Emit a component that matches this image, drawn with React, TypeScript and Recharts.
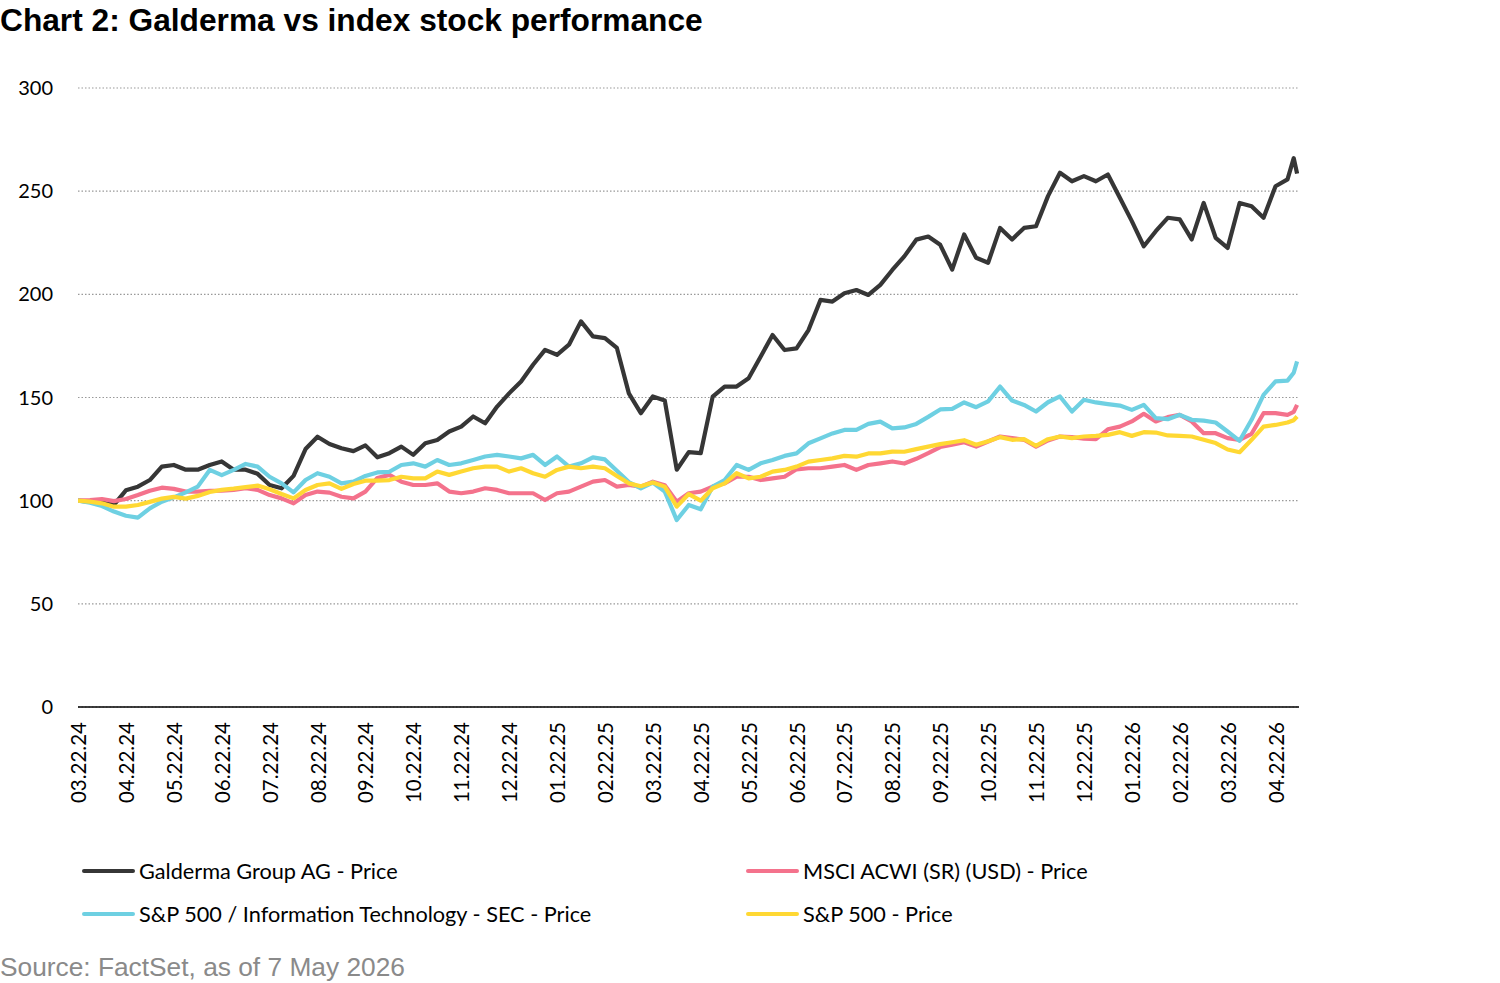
import React from 'react';
import { LineChart, Line, XAxis, YAxis, CartesianGrid } from 'recharts';

// x position in months since 03.22.24 (0 = 03.22.24, 25 = 04.22.26)
const monthIndex = [
  0, 0.25, 0.5, 0.75, 1, 1.25, 1.5, 1.75, 2, 2.25, 2.5, 2.75, 3, 3.25, 3.5, 3.75,
  4, 4.25, 4.5, 4.75, 5, 5.25, 5.5, 5.75, 6, 6.25, 6.5, 6.75, 7, 7.25, 7.5, 7.75,
  8, 8.25, 8.5, 8.75, 9, 9.25, 9.5, 9.75, 10, 10.25, 10.5, 10.75, 11, 11.25, 11.5, 11.75,
  12, 12.25, 12.5, 12.75, 13, 13.25, 13.5, 13.75, 14, 14.25, 14.5, 14.75, 15, 15.25, 15.5, 15.75,
  16, 16.25, 16.5, 16.75, 17, 17.25, 17.5, 17.75, 18, 18.25, 18.5, 18.75, 19, 19.25, 19.5, 19.75,
  20, 20.25, 20.5, 20.75, 21, 21.25, 21.5, 21.75, 22, 22.25, 22.5, 22.75, 23, 23.25, 23.5, 23.75,
  24, 24.25, 24.5, 24.75, 25, 25.25, 25.38, 25.45,
];

const galderma = [
  100, 99.5, 100, 98, 105, 106.8, 110, 116.5, 117.3, 115, 115, 117.3, 119, 115, 115, 113,
  107.6, 106, 112, 125, 131, 127.5, 125.4, 124, 126.8, 121, 123, 126.2, 122.2, 127.8, 129.4, 133.5,
  135.9, 140.8, 137.5, 145.6, 152, 157.8, 165.9, 173.1, 170.7, 175.6, 186.9, 179.6, 178.8, 174, 152, 142.4,
  150.5, 148.5, 115, 123.5, 123, 150.4, 155.3, 155.3, 159.3, 169.8, 180.3, 173, 173.8, 182.7, 197.3, 196.5,
  200.5, 202.1, 199.7, 204.6, 211.8, 218.4, 226.5, 228, 224, 212, 229, 217.7, 215.3, 232.2, 226.6, 232.2,
  233, 247.6, 258.9, 254.8, 257.3, 254.8, 258.1, 246.8, 235.5, 223.3, 230.6, 237.1, 236.3, 226.6, 244.3, 227.4,
  222.5, 244.3, 242.7, 237.1, 252.4, 255.7, 266, 258.5,
];

const msciAcwi = [
  100, 100.3, 100.8, 99.8, 100.8, 102.7, 104.8, 106.3, 105.7, 104.4, 104.4, 104.7, 104.8, 105.2, 106, 105.2,
  102.7, 101.1, 98.7, 102.7, 104.4, 103.9, 101.9, 101.1, 104.4, 111, 112.5, 109.2, 107.6, 107.6, 108.4, 104.4,
  103.6, 104.4, 106, 105.2, 103.6, 103.6, 103.6, 100.3, 103.6, 104.4, 106.8, 109.2, 110, 106.8, 107.6, 106.8,
  109.2, 107.5, 99.5, 103.6, 104.4, 106.8, 108.4, 111.6, 111.6, 110, 110.8, 111.6, 115.2, 115.7, 115.7, 116.5,
  117.3, 114.9, 117.3, 118.1, 119, 118, 120.3, 123, 126, 127.1, 128.3, 126.2, 128.7, 131.1, 130.3, 129.5,
  126.2, 129.2, 131.1, 130.8, 130, 129.8, 134.6, 135.9, 138.4, 142.1, 138.4, 140.5, 141.6, 138.4, 132.7, 132.7,
  130.3, 129.5, 132.4, 142.4, 142.4, 141.6, 143, 146.4,
];

const spInfoTech = [
  100, 99, 97.4, 94.7, 92.7, 91.8, 96.3, 99.5, 101.6, 104, 106.8, 114.9, 112.4, 114.9, 117.8, 116.5,
  111.6, 108.4, 104, 110, 113.3, 111.6, 108.4, 109.2, 112, 113.7, 114, 117.3, 118.1, 116.5, 119.7, 117.3,
  118.1, 119.7, 121.4, 122.2, 121.4, 120.5, 122.2, 117.3, 121.4, 116.5, 118.1, 121, 120, 114.5, 109, 106,
  108.8, 104.4, 90.6, 97.9, 95.8, 106.8, 110, 117.3, 114.9, 118.1, 119.7, 121.7, 122.9, 127.8, 130.2, 132.6,
  134.3, 134.3, 137.2, 138.3, 135, 135.5, 137.2, 140.6, 144.2, 144.5, 147.6, 145.3, 148.1, 155.3, 148.5, 146.4,
  143.2, 147.7, 150.5, 143.2, 148.9, 147.6, 146.8, 146.1, 144, 146.4, 140, 139.5, 141.6, 139.2, 138.8, 137.9,
  133.5, 129, 139.2, 151.3, 157.8, 158.2, 162, 167.5,
];

const sp500 = [
  100, 99.5, 98.7, 97.1, 97.1, 97.9, 99.4, 101, 101.8, 101, 102.3, 104.2, 105.2, 105.8, 106.6, 107.3,
  105.5, 103.2, 101.1, 105.2, 107.6, 108.4, 105.7, 108.1, 109.7, 109.7, 110, 111.6, 110.8, 110.8, 114.1, 112.5,
  114.1, 115.7, 116.5, 116.5, 114.1, 115.7, 113.3, 111.6, 114.9, 116.5, 115.7, 116.5, 115.7, 112, 108.4, 107,
  108.8, 106.8, 97.1, 103.2, 100, 106, 108.4, 113.3, 110.8, 111.6, 114.1, 114.9, 116.5, 118.9, 119.7, 120.5,
  121.7, 121.3, 122.9, 122.9, 123.8, 123.7, 125, 126.2, 127.4, 128.3, 129.3, 127.1, 128.8, 130.8, 129.5, 129.8,
  126.6, 129.8, 131.1, 130.3, 131.1, 131.4, 131.9, 133.2, 131.4, 133.2, 133, 131.6, 131.4, 131.1, 129.5, 127.9,
  124.8, 123.5, 129.5, 135.9, 136.7, 137.9, 139, 140.8,
];

const tickLabels = [
  '03.22.24', '04.22.24', '05.22.24', '06.22.24', '07.22.24', '08.22.24', '09.22.24',
  '10.22.24', '11.22.24', '12.22.24', '01.22.25', '02.22.25', '03.22.25', '04.22.25',
  '05.22.25', '06.22.25', '07.22.25', '08.22.25', '09.22.25', '10.22.25', '11.22.25',
  '12.22.25', '01.22.26', '02.22.26', '03.22.26', '04.22.26',
];

const yTicks = [0, 50, 100, 150, 200, 250, 300];

const seriesMeta = [
  { key: 'galderma', name: 'Galderma Group AG - Price', color: '#363636' },
  { key: 'msci', name: 'MSCI ACWI (SR) (USD) - Price', color: '#F4728C' },
  { key: 'spit', name: 'S&P 500 / Information Technology - SEC - Price', color: '#6ED0E2' },
  { key: 'sp500', name: 'S&P 500 - Price', color: '#FFD833' },
];

const data = monthIndex.map((m, i) => ({
  m,
  galderma: galderma[i],
  msci: msciAcwi[i],
  spit: spInfoTech[i],
  sp500: sp500[i],
}));

const xTicks = tickLabels.map((_, i) => i);

const FONT = 'Lato, "Noto Sans", sans-serif';

const DateTick = (props: any) => {
  const { x, y, payload } = props;
  return (
    <text
      x={x}
      y={y}
      transform={`rotate(-90 ${x} ${y})`}
      textAnchor="end"
      dominantBaseline="central"
      fontFamily={FONT}
      fontSize={20.5}
      fill="#000"
    >
      {tickLabels[payload.value]}
    </text>
  );
};

const legendLayout = [
  { idx: 0, left: 82, top: 871 },
  { idx: 1, left: 746, top: 871 },
  { idx: 2, left: 82, top: 914 },
  { idx: 3, left: 746, top: 914 },
];

export default function App() {
  return (
    <div style={{ position: 'absolute', left: 0, top: 0, width: 1500, height: 983, background: '#fff' }}>
      <div
        style={{
          position: 'absolute',
          left: 0,
          top: 4,
          fontFamily: '"Liberation Sans", Arial, sans-serif',
          fontWeight: 'bold',
          fontSize: 31.7,
          lineHeight: '32px',
          color: '#000',
          whiteSpace: 'nowrap',
        }}
      >
        Chart 2: Galderma vs index stock performance
      </div>

      <div style={{ position: 'absolute', left: 0, top: 0 }}>
        <LineChart
          width={1500}
          height={983}
          data={data}
          margin={{ top: 88, right: 201, bottom: 176, left: 18 }}
        >
          <CartesianGrid vertical={false} stroke="#999999" strokeDasharray="1.5 2" strokeWidth={1.2} />
          <XAxis
            dataKey="m"
            type="number"
            domain={[0, 25.49]}
            ticks={xTicks}
            interval={0}
            height={100}
            axisLine={{ stroke: '#000', strokeWidth: 1.6 }}
            tickLine={false}
            tickSize={0}
            tickMargin={15}
            tick={<DateTick />}
            allowDataOverflow
          />
          <YAxis
            domain={[0, 300]}
            ticks={yTicks}
            width={60}
            axisLine={false}
            tickLine={false}
            tickSize={0}
            tickMargin={25}
            tick={{ fontFamily: FONT, fontSize: 20, fill: '#000' }}
            interval={0}
          />
          {seriesMeta.map((s) => (
            <Line
              key={s.key}
              type="linear"
              dataKey={s.key}
              name={s.name}
              stroke={s.color}
              strokeWidth={4.2}
              dot={false}
              activeDot={false}
              isAnimationActive={false}
              strokeLinejoin="round"
            />
          ))}
        </LineChart>
      </div>

      {legendLayout.map(({ idx, left, top }) => {
        const s = seriesMeta[idx];
        return (
          <div
            key={s.key}
            style={{
              position: 'absolute',
              left,
              top: top - 15,
              height: 30,
              display: 'flex',
              alignItems: 'center',
              whiteSpace: 'nowrap',
            }}
          >
            <div style={{ width: 53, height: 4, background: s.color, borderRadius: 2, marginRight: 4 }} />
            <span style={{ fontFamily: FONT, fontSize: 21.7, color: '#000' }}>{s.name}</span>
          </div>
        );
      })}

      <div
        style={{
          position: 'absolute',
          left: 0,
          top: 954,
          fontFamily: '"Liberation Sans", Arial, sans-serif',
          fontSize: 26.3,
          lineHeight: '26px',
          color: '#8a8a8a',
          whiteSpace: 'nowrap',
        }}
      >
        Source: FactSet, as of 7 May 2026
      </div>
    </div>
  );
}
